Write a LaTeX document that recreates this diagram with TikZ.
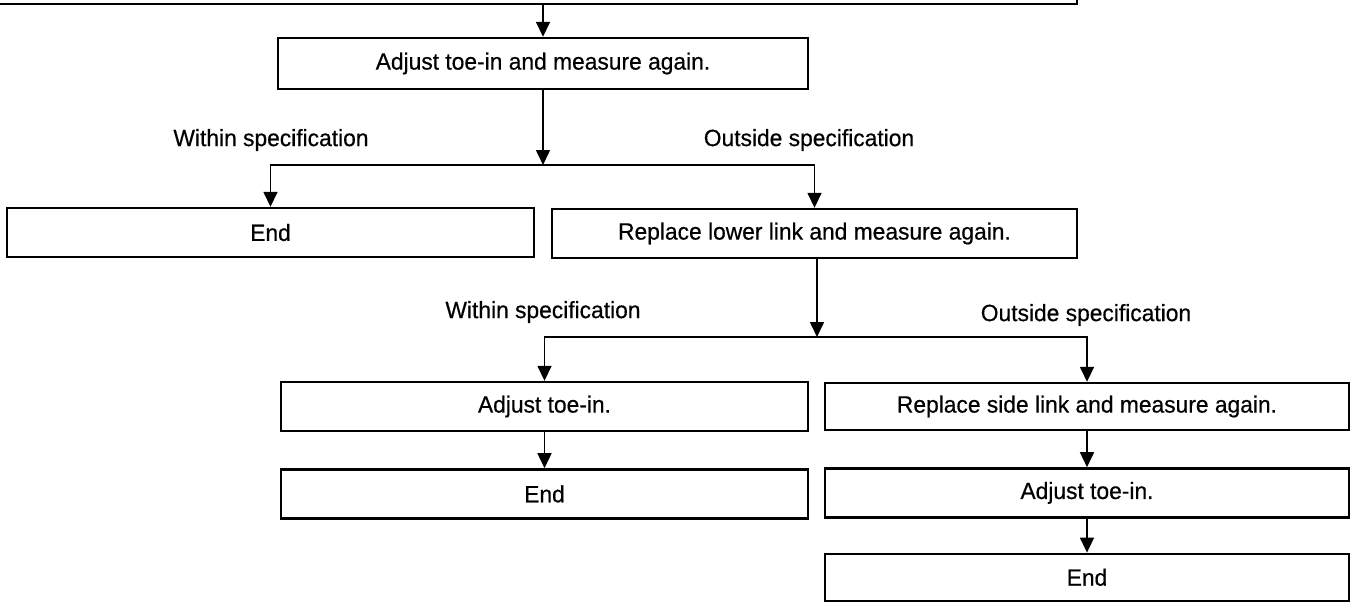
\documentclass[tikz,border=0pt]{standalone}
\usepackage{fontspec}
\setmainfont{Liberation Sans}
\newfontfamily\diagfont{Liberation Sans}[FakeBold=0.5, FakeStretch=0.97]
\usetikzlibrary{positioning, arrows.meta}

\begin{document}
\begin{tikzpicture}[x=1pt, y=-1pt, node distance=36pt,
    every node/.style={font=\diagfont\fontsize{23.5}{28}\selectfont},
    box/.style={rectangle, draw, line width=2.4pt, minimum width=527pt, minimum height=49pt, align=center, inner sep=0pt},
    lbl/.style={inner sep=0pt},
    arrow/.style={-{Triangle[length=15pt, width=14pt]}, line width=1.6pt}]
  \useasboundingbox (0,0) rectangle (1352,603);

  % boxes
  \node[box, minimum width=1090pt, minimum height=60pt, anchor=south east] (top) at (1078,5) {};
  \node[box, minimum width=530pt, minimum height=51pt] (adj1) at (543,63.5) {Adjust toe-in and measure again.};
  \node[box] (end1) at (270.5,232.5) {End};
  \node[box, minimum width=525pt] (rll) at (814.5,233.5) {Replace lower link and measure again.};
  \node[box] (adj2) at (544.5,406.5) {Adjust toe-in.};
  \node[box, below=of adj2] (end2) {End};
  \node[box, minimum width=524pt, minimum height=47pt] (rsl) at (1087,406.5) {Replace side link and measure again.};
  \node[box, minimum width=524pt, below=of rsl] (adj3) {Adjust toe-in.};
  \node[box, minimum width=524pt, minimum height=47pt, below=34pt of adj3] (end3) {End};

  % branch points
  \coordinate (j1) at (543,165);
  \coordinate (j2) at (817,337);

  % labels
  \node[lbl] (win1) at (271,140) {Within specification};
  \node[lbl] (out1) at (809,140) {Outside specification};
  \node[lbl] (win2) at (543,312) {Within specification};
  \node[lbl] (out2) at (1086,315) {Outside specification};

  % connectors
  \draw[arrow] (top.south -| adj1.north) -- (adj1.north);
  \draw[arrow] (adj1.south) -- (j1);
  \draw[arrow] (j1) -| (end1.north);
  \draw[arrow] (j1) -| (rll.north);
  \draw[arrow] (rll.south -| j2) -- (j2);
  \draw[arrow] (j2) -| (adj2.north);
  \draw[arrow] (j2) -| (rsl.north);
  \draw[arrow] (adj2) -- (end2);
  \draw[arrow] (rsl) -- (adj3);
  \draw[arrow] (adj3) -- (end3);
\end{tikzpicture}
\end{document}
